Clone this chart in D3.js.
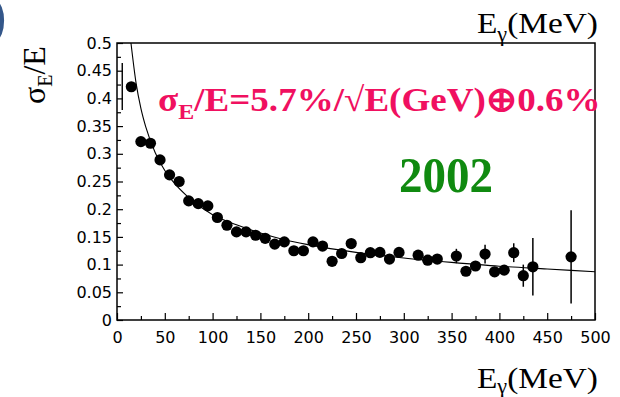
<!DOCTYPE html>
<html>
<head>
<meta charset="utf-8">
<script src="https://cdn.jsdelivr.net/npm/d3@7/dist/d3.min.js"></script>
<style>
  html, body { margin: 0; padding: 0; background: #fff; overflow: hidden; }
  svg { display: block; }
</style>
</head>
<body>
<svg id="chart" width="620" height="397"></svg>
<script>
// Photon energy bins (MeV) and measured relative energy resolution
const energyMeV = [15, 25, 35, 45, 55, 65, 75, 85, 95, 105, 115, 125, 135, 145, 155, 165, 175, 185, 195, 205,
                   215, 225, 235, 245, 255, 265, 275, 285, 295, 315, 325, 335, 355, 365, 375, 385, 395, 405,
                   415, 425, 435, 475];
const sigmaOverE = [0.421, 0.322, 0.319, 0.289, 0.262, 0.250, 0.215, 0.210, 0.206, 0.185, 0.171, 0.159, 0.159,
                    0.153, 0.1475, 0.137, 0.141, 0.125, 0.125, 0.141, 0.1335, 0.106, 0.120, 0.138, 0.1125,
                    0.1215, 0.122, 0.110, 0.122, 0.117, 0.108, 0.110, 0.1155, 0.088, 0.0975, 0.119, 0.087,
                    0.090, 0.1215, 0.080, 0.096, 0.114];
const sigmaErr = [0.005, 0.004, 0.004, 0.004, 0.004, 0.004, 0.004, 0.004, 0.004, 0.004, 0.004, 0.004, 0.004,
                  0.004, 0.004, 0.004, 0.004, 0.004, 0.004, 0.004, 0.004, 0.004, 0.004, 0.005, 0.005,
                  0.005, 0.005, 0.005, 0.005, 0.005, 0.005, 0.006, 0.013, 0.007, 0.008, 0.017, 0.008,
                  0.008, 0.017, 0.020, 0.052, 0.084];

// Lowest-energy bin: only its error band shows inside the frame
const lowBinEnergy = [5.5];
const lowBinLow = [0.379];
const lowBinHigh = [0.464];

// Resolution fit curve, sampled along the energy axis
const fitEnergy = [14.6, 20, 25, 30, 40, 50, 60, 75, 100, 125, 150, 175, 200, 250, 300, 350, 400, 450, 500];
const fitValue  = [0.500, 0.427, 0.382, 0.349, 0.302, 0.270, 0.247, 0.221, 0.190, 0.172, 0.157, 0.145,
                   0.136, 0.122, 0.112, 0.104, 0.097, 0.092, 0.087];

// Axis ticks and labels
const xTickValues = [0, 50, 100, 150, 200, 250, 300, 350, 400, 450, 500];
const xTickLabels = ["0", "50", "100", "150", "200", "250", "300", "350", "400", "450", "500"];
const xMinorTicks = [25, 75, 125, 175, 225, 275, 325, 375, 425, 475];
const yTickValues = [0, 0.05, 0.1, 0.15, 0.2, 0.25, 0.3, 0.35, 0.4, 0.45, 0.5];
const yTickLabels = ["0", "0.05", "0.1", "0.15", "0.2", "0.25", "0.3", "0.35", "0.4", "0.45", "0.5"];
const yMinorTicks = [0.025, 0.075, 0.125, 0.175, 0.225, 0.275, 0.325, 0.375, 0.425, 0.475];

const svg = d3.select("#chart");
const frame = { left: 117, right: 595, top: 43, bottom: 320 };

const x = d3.scaleLinear().domain([0, 500]).range([frame.left, frame.right]);
const y = d3.scaleLinear().domain([0, 0.5]).range([frame.bottom, frame.top]);

const tickFont = "'DejaVu Sans', sans-serif";
const serif = "'Liberation Serif', 'Times New Roman', serif";

// stretch a text element horizontally so it spans a given width
function fitWidth(sel, x0, width) {
  const w = sel.node().getBBox().width;
  const s = width / w;
  sel.attr("transform", `translate(${x0},0) scale(${s},1) translate(${-x0},0)`);
}

// Bottom axis: major and minor ticks pointing into the frame
svg.append("g").attr("transform", `translate(0,${frame.bottom})`)
  .call(d3.axisBottom(x).tickValues(xTickValues)
    .tickFormat((d, i) => xTickLabels[i])
    .tickSizeInner(-7).tickSizeOuter(0).tickPadding(12));
svg.append("g").attr("transform", `translate(0,${frame.bottom})`)
  .call(d3.axisBottom(x).tickValues(xMinorTicks).tickFormat("")
    .tickSizeInner(-4).tickSizeOuter(0));

// Left axis
svg.append("g").attr("transform", `translate(${frame.left},0)`)
  .call(d3.axisLeft(y).tickValues(yTickValues)
    .tickFormat((d, i) => yTickLabels[i])
    .tickSizeInner(-6).tickSizeOuter(0).tickPadding(5));
svg.append("g").attr("transform", `translate(${frame.left},0)`)
  .call(d3.axisLeft(y).tickValues(yMinorTicks).tickFormat("")
    .tickSizeInner(-4).tickSizeOuter(0));

svg.selectAll(".domain").remove();
svg.selectAll(".tick line").attr("stroke", "#000").attr("stroke-width", 1.2);
svg.selectAll(".tick text").attr("font-family", tickFont).attr("font-size", 16).attr("fill", "#000");

// Plot frame
svg.append("rect")
  .attr("x", frame.left).attr("y", frame.top)
  .attr("width", frame.right - frame.left).attr("height", frame.bottom - frame.top)
  .attr("fill", "none").attr("stroke", "#000").attr("stroke-width", 1.5);

// Clip region for the plotted content
svg.append("clipPath").attr("id", "plot-area")
  .append("rect").attr("x", frame.left).attr("y", frame.top)
  .attr("width", frame.right - frame.left).attr("height", frame.bottom - frame.top);

const plot = svg.append("g").attr("clip-path", "url(#plot-area)");

// Fit curve
const fitPoints = fitEnergy.map((e, i) => [e, fitValue[i]]);
plot.append("path")
  .datum(fitPoints)
  .attr("fill", "none").attr("stroke", "#000").attr("stroke-width", 1.1)
  .attr("d", d3.line().x(d => x(d[0])).y(d => y(d[1])).curve(d3.curveMonotoneX));

// Error band of the lowest bin
plot.selectAll("line.lowbin").data(lowBinEnergy).join("line")
  .attr("class", "lowbin")
  .attr("x1", d => x(d)).attr("x2", d => x(d))
  .attr("y1", (d, i) => y(lowBinLow[i])).attr("y2", (d, i) => y(lowBinHigh[i]))
  .attr("stroke", "#000").attr("stroke-width", 1.4);

// Data points with vertical error bars
const points = energyMeV.map((e, i) => ({ e, v: sigmaOverE[i], err: sigmaErr[i] }));
plot.selectAll("line.err").data(points).join("line")
  .attr("class", "err")
  .attr("x1", d => x(d.e)).attr("x2", d => x(d.e))
  .attr("y1", d => y(d.v - d.err)).attr("y2", d => y(d.v + d.err))
  .attr("stroke", "#000").attr("stroke-width", 1.5);
plot.selectAll("circle.pt").data(points).join("circle")
  .attr("class", "pt")
  .attr("cx", d => x(d.e)).attr("cy", d => y(d.v))
  .attr("r", 5.6).attr("fill", "#000");

// Axis titles
function photonEnergyTitle(baseline, subShift) {
  const t = svg.append("text")
    .attr("x", 477).attr("y", baseline)
    .attr("font-family", serif).attr("font-size", 30).attr("fill", "#000");
  t.append("tspan").text("E");
  t.append("tspan").attr("dy", subShift).attr("font-size", 20).text("γ");
  t.append("tspan").attr("dy", -subShift).text("(MeV)");
  fitWidth(t, 477, 121);
}
photonEnergyTitle(33, 8);
photonEnergyTitle(388, 5);

const yTitle = svg.append("text")
  .attr("transform", "translate(45,104) rotate(-90)")
  .attr("font-family", serif).attr("font-size", 32).attr("fill", "#000");
yTitle.append("tspan").text("σ");
yTitle.append("tspan").attr("dy", 7).attr("font-size", 20).text("E");
yTitle.append("tspan").attr("dy", -7).text("/E");

// Resolution formula
const formula = svg.append("text")
  .attr("x", 158).attr("y", 111)
  .attr("font-family", serif).attr("font-size", 34).attr("font-weight", "bold")
  .attr("fill", "#f01060");
formula.append("tspan").text("σ");
formula.append("tspan").attr("dy", 8).attr("font-size", 22).text("E");
formula.append("tspan").attr("dy", -8).text("/E=5.7%/√E(GeV)⊕0.6%");
fitWidth(formula, 158, 442);

// Year tag
const year = svg.append("text")
  .attr("x", 399).attr("y", 192)
  .attr("font-family", serif).attr("font-size", 50).attr("font-weight", "bold")
  .attr("fill", "#108a10").text("2002");
fitWidth(year, 399, 94);

// Panel marker at the top-left corner
svg.append("text")
  .attr("x", -10).attr("y", 34)
  .attr("font-family", "'Liberation Sans', Arial, sans-serif").attr("font-size", 52)
  .attr("fill", "#34578a").text(")");
</script>
</body>
</html>
